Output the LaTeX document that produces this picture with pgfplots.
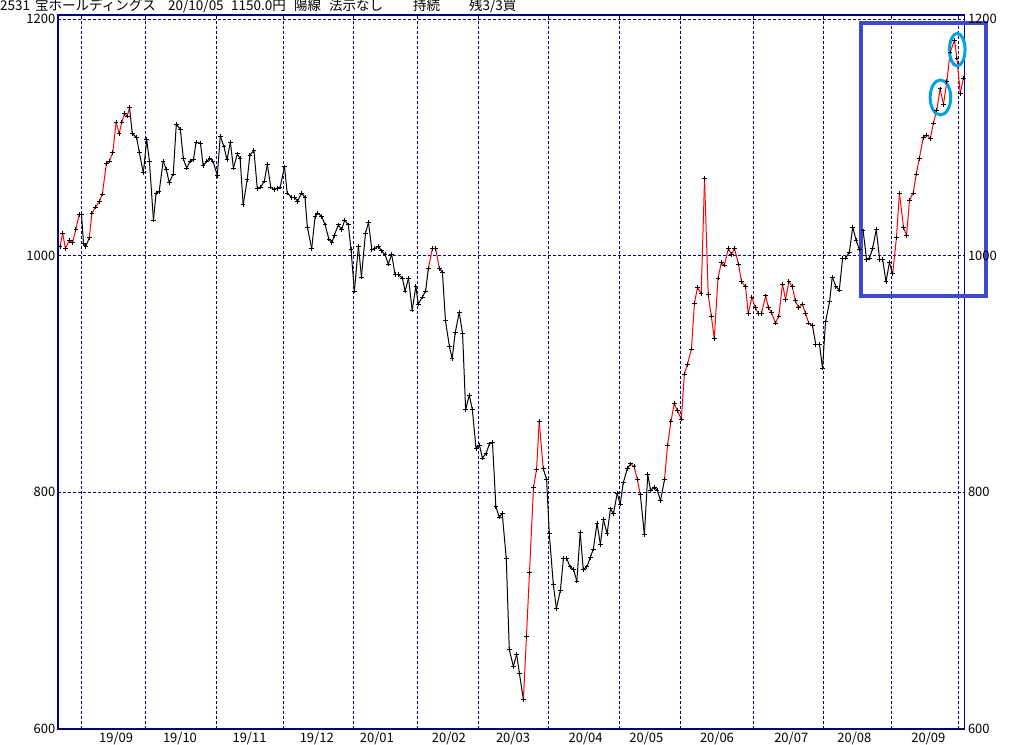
\documentclass[border=0pt]{standalone}
\usepackage{fontspec}
\setmainfont{Noto Sans CJK JP}
\usepackage{pgfplots}
\usepackage{pgfplotstable}
\pgfplotsset{compat=1.18}

\definecolor{navy}{RGB}{0,0,128}
\definecolor{paintblue}{RGB}{63,72,204}
\definecolor{painttq}{RGB}{0,162,232}

% d = trading day, v = close, r = 1 when the segment starting here is red
\pgfplotstableread{
d v r
0.6 1008 1
1.4 1019 1
2.2 1006 1
3.4 1013 1
4.3 1011 1
5.3 1022 1
6.3 1035 1
7.0 1035 0
7.6 1010 0
8.3 1008 0
9.3 1015 1
10.1 1036 1
11.2 1041 1
12.3 1046 1
13.2 1052 1
14.4 1078 1
15.3 1080 1
16.3 1087 1
17.3 1113 1
18.2 1103 1
19.0 1113 1
19.8 1120 1
20.6 1118 1
21.3 1125 0
22.1 1103 0
23.4 1100 0
24.2 1087 0
25.4 1070 0
26.4 1098 0
27.2 1080 0
28.4 1030 0
29.2 1053 0
30.1 1054 0
31.3 1080 0
32.2 1073 0
33.1 1062 0
34.3 1069 0
35.2 1111 0
36.4 1107 0
37.3 1082 0
38.3 1074 0
39.3 1080 0
40.3 1081 0
41.1 1096 0
42.4 1095 0
43.2 1076 0
44.3 1080 0
45.2 1082 0
46.1 1080 0
47.4 1068 0
48.3 1101 0
49.4 1092 0
50.3 1081 0
51.3 1096 0
52.2 1074 0
53.4 1086 0
54.2 1082 0
55.1 1043 0
56.3 1064 0
57.1 1085 0
58.3 1089 0
59.3 1057 0
60.3 1058 0
61.4 1063 0
62.3 1077 0
63.3 1058 0
64.3 1056 0
65.3 1057 0
66.1 1058 0
67.4 1075 0
68.2 1053 0
69.6 1049 0
70.5 1049 0
71.3 1046 0
72.5 1053 0
73.5 1049 0
74.2 1024 0
75.5 1006 0
76.5 1033 0
77.3 1036 0
78.5 1033 0
79.5 1026 0
80.6 1014 0
81.5 1011 0
82.2 1017 0
83.4 1026 0
84.4 1022 0
85.3 1030 0
86.4 1026 0
87.2 1005 0
88.2 970 0
89.4 1008 0
90.3 982 0
91.5 1019 0
92.4 1028 0
93.4 1005 0
94.3 1006 0
95.3 1008 0
96.3 1004 0
97.3 1001 0
98.3 993 0
99.3 1001 0
100.3 984 0
101.3 984 0
102.5 981 0
103.3 970 0
104.3 981 0
105.4 954 0
106.5 974 0
107.2 959 0
108.4 965 0
109.4 970 0
110.2 989 1
111.4 1006 1
112.4 1006 1
113.5 989 0
114.4 986 0
115.3 945 0
116.5 923 0
117.3 913 0
118.2 935 0
119.4 952 0
120.4 934 0
121.3 870 0
122.4 882 0
123.3 870 0
124.4 837 0
125.4 840 0
126.3 829 0
127.4 833 0
128.4 841 0
129.3 842 0
130.3 788 0
131.3 779 0
132.2 782 0
133.4 744 0
134.3 667 0
135.5 653 0
136.5 663 0
137.3 647 0
138.5 625 1
139.4 678 1
140.3 732 1
141.5 804 1
142.4 819 1
143.2 860 1
144.4 820 0
145.4 811 0
146.2 765 0
147.4 722 0
148.3 702 0
149.5 717 0
150.4 744 0
151.4 744 0
152.4 737 0
153.4 735 0
154.4 725 0
155.4 766 0
156.3 735 0
157.4 737 0
158.4 745 0
159.3 752 0
160.4 774 0
161.4 756 0
162.3 777 0
163.4 765 0
164.4 786 0
165.3 782 0
166.4 799 0
167.3 790 0
168.2 808 0
169.4 820 0
170.4 824 1
171.4 822 1
172.4 811 1
173.3 798 0
174.5 764 0
175.5 815 0
176.3 802 0
177.5 804 0
178.3 802 0
179.3 793 0
180.5 811 1
181.4 840 1
182.4 860 1
183.4 875 1
184.3 869 1
185.5 862 1
186.4 900 1
187.3 908 1
188.5 921 1
189.4 960 1
190.3 973 1
191.4 968 1
192.4 1065 1
193.5 967 1
194.4 949 1
195.3 930 1
196.4 981 1
197.4 994 1
198.3 992 1
199.5 1006 1
200.4 1001 1
201.3 1006 1
202.5 993 1
203.4 978 1
204.6 974 1
205.4 951 1
206.5 965 1
207.5 956 1
208.5 951 1
209.3 951 1
210.6 966 1
211.4 956 1
212.3 952 1
213.5 943 1
214.5 949 1
215.6 976 1
216.5 963 1
217.5 978 1
218.5 974 1
219.4 962 1
220.4 956 1
221.5 959 1
222.5 951 1
223.4 943 1
224.5 941 0
225.5 925 0
226.6 925 0
227.5 905 0
228.4 944 0
229.6 961 0
230.4 982 0
231.5 974 0
232.5 971 0
233.5 998 0
234.4 998 0
235.5 1003 0
236.5 1024 0
237.5 1013 0
238.5 1005 0
239.6 1021 0
240.6 997 0
241.5 998 0
242.4 1006 0
243.5 1022 0
244.5 997 0
245.4 997 0
246.4 978 0
247.4 994 0
248.4 985 1
249.5 1015 1
250.4 1053 1
251.6 1024 1
252.5 1017 1
253.4 1047 1
254.5 1053 1
255.4 1069 1
256.3 1082 1
257.5 1100 1
258.5 1102 1
259.6 1099 1
260.5 1112 1
261.5 1123 1
262.5 1141 1
263.5 1128 1
264.5 1147 1
265.5 1172 1
266.8 1182 1
267.5 1167 1
268.5 1137 1
269.4 1150 1
}\prices

\begin{document}
\begin{tikzpicture}
\useasboundingbox (-58bp,-16bp) rectangle (966bp,729bp);
\pgfplotsset{
  chartbase/.style={
    scale only axis, width=906.3bp, height=714bp,
    at={(0,0)}, anchor=south west,
    xmin=0, xmax=269.7, ymin=600, ymax=1203.4,
    ytick={600,800,1000,1200},
    major tick length=0,
    /pgf/number format/assume math mode=true,
    /pgf/number format/set thousands separator={},
    tick label style={font=\fontsize{13bp}{15bp}\selectfont, inner sep=0pt},
  }
}
\begin{axis}[chartbase,
  clip=false,
  axis line style={navy, line width=1.2bp},
  xtick={6.9,26.0,47.1,67.1,87.9,106.9,125.1,145.9,167.0,185.1,207.1,227.9,248.0,267.9},
  xticklabels={,,,,,,,,,,,,,},
  extra x ticks={17.3,36.3,57.0,77.0,94.9,116.3,135.4,157.0,175.1,196.1,218.2,237.0,259.0},
  extra x tick labels={19/09,19/10,19/11,19/12,20/01,20/02,20/03,20/04,20/05,20/06,20/07,20/08,20/09},
  extra x tick style={grid=none, major tick length=0},
  xticklabel style={anchor=north, yshift=-3bp},
  yticklabel style={anchor=east, xshift=-2.5bp},
  grid=major,
  major grid style={navy, line width=1bp, dash pattern=on 3bp off 2bp},
]
\addplot[mesh, shader=flat corner, line width=1bp,
  colormap={rb}{color=(black) color=(red)},
  point meta=\thisrow{r}, point meta min=0, point meta max=1]
  table[x=d, y=v] {\prices};
\addplot[only marks, mark=+, mark size=2.3bp, black, line width=0.9bp]
  table[x=d, y=v] {\prices};

\draw[paintblue, line width=4bp] (axis cs:239.0,965.9) rectangle (axis cs:276.2,1196.4);
\draw[painttq, line width=3bp] (axis cs:262.6,1133.7) ellipse [x radius=10.3bp, y radius=17.5bp];
\draw[painttq, line width=3bp] (axis cs:267.6,1174.1) ellipse [x radius=7.8bp, y radius=16.3bp];
\end{axis}

\begin{axis}[chartbase,
  axis line style={draw=none},
  xtick=\empty,
  yticklabel pos=right,
  yticklabel style={anchor=west, xshift=3.5bp},
]
\end{axis}

\begin{scope}[every node/.style={anchor=base west, inner sep=0pt, font=\fontsize{13.5bp}{16bp}\selectfont}]
\node at (-58bp,718bp) {2531};
\node at (-23bp,718bp) {宝ホールディングス};
\node at (110bp,718bp) {20/10/05};
\node at (173bp,718bp) {1150.0円};
\node at (236bp,718bp) {陽線};
\node at (271bp,718bp) {法示なし};
\node at (355bp,718bp) {持続};
\node at (411bp,718bp) {残3/3買};
\end{scope}
\end{tikzpicture}
\end{document}
